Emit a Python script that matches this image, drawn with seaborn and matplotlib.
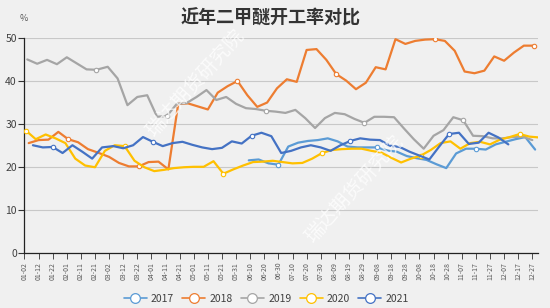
import numpy as np
import pandas as pd
import matplotlib
matplotlib.use("Agg")
import matplotlib.pyplot as plt
from matplotlib.lines import Line2D
import seaborn as sns

# ---------------- data ----------------
title = "近年二甲醚开工率对比"
unit = "%"
tick_labels = ["01-02", "01-12", "01-22", "02-01", "02-11", "02-21", "03-02", "03-12",
               "03-22", "04-01", "04-11", "04-21", "05-01", "05-11", "05-21", "05-31",
               "06-10", "06-20", "06-30", "07-10", "07-20", "07-30", "08-09", "08-19",
               "08-29", "09-08", "09-18", "09-28", "10-08", "10-18", "10-28", "11-07",
               "11-17", "11-27", "12-07", "12-17", "12-27"]

years = ["2017", "2018", "2019", "2020", "2021"]
start_dates = {"2017": "2017-06-09", "2018": "2018-01-05", "2019": "2019-01-04",
               "2020": "2020-01-03", "2021": "2021-01-08"}

v2017 = [21.6, 21.8, 20.9, 20.6, 24.8, 25.7, 26.1, 26.3, 26.7, 26.0, 24.8, 24.6, 24.6,
         24.6, 23.9, 23.6, 22.6, 22.1, 21.7, 20.7, 19.8, 23.2, 24.3, 24.3, 24.1, 25.3,
         25.9, 26.5, 27.0, 24.1]
v2018 = [25.6, 26.3, 26.4, 28.2, 26.5, 25.8, 24.2, 23.4, 22.4, 21.0, 20.2, 20.2, 21.2,
         21.3, 19.5, 34.7, 34.8, 34.1, 33.4, 37.3, 38.8, 40.0, 36.7, 34.0, 35.0, 38.3,
         40.4, 39.8, 47.2, 47.4, 44.9, 41.6, 40.1, 38.1, 39.6, 43.2, 42.7, 49.7, 48.6,
         49.3, 49.6, 49.7, 49.3, 47.0, 42.2, 41.8, 42.4, 45.7, 44.7, 46.6, 48.2, 48.2]
v2019 = [45.0, 44.0, 44.9, 43.9, 45.5, 44.1, 42.7, 42.6, 43.3, 40.6, 34.4, 36.3, 36.7,
         31.7, 31.9, 34.7, 34.9, 36.3, 37.9, 35.6, 36.3, 34.7, 33.7, 33.5, 33.1, 32.9,
         32.6, 33.3, 31.4, 29.1, 31.4, 32.6, 32.3, 31.2, 30.3, 31.7, 31.7, 31.6, 29.0,
         26.5, 24.3, 27.3, 28.6, 31.6, 30.9, 27.3, 27.2, 26.7, 26.7, 27.0, 27.1, 26.3]
v2020 = [28.5, 26.5, 27.6, 26.7, 25.6, 22.0, 20.4, 20.0, 23.8, 25.1, 24.9, 21.5, 20.0,
         19.1, 19.4, 19.8, 20.0, 20.1, 20.1, 21.4, 18.5, 19.5, 20.4, 21.2, 21.3, 21.5,
         21.2, 20.9, 21.0, 22.0, 23.3, 24.0, 24.2, 24.3, 24.3, 23.8, 23.4, 22.2, 21.1,
         22.0, 22.7, 24.0, 25.6, 26.0, 24.3, 25.6, 25.9, 25.3, 26.4, 27.0, 27.7, 27.1,
         26.9]
v2021 = [25.1, 24.6, 24.7, 23.3, 25.1, 23.6, 22.0, 24.6, 24.9, 24.4, 25.1, 27.0, 25.9,
         24.9, 25.6, 25.9, 25.2, 24.6, 24.2, 24.5, 26.0, 25.5, 27.3, 28.0, 27.2, 23.3,
         23.8, 24.6, 25.1, 24.6, 23.8, 25.1, 26.1, 26.7, 26.4, 26.3, 25.0, 24.7, 23.6,
         22.7, 21.8, 24.8, 27.7, 28.0, 25.4, 25.7, 28.0, 26.9, 25.3]
values = {"2017": v2017, "2018": v2018, "2019": v2019, "2020": v2020, "2021": v2021}

colors = {"2017": "#5B9BD5", "2018": "#ED7D31", "2019": "#A5A5A5",
          "2020": "#FFC000", "2021": "#4472C4"}
marker_idx = {"2017": [3, 13, 23], "2018": [4, 11, 21, 31, 41, 51],
              "2019": [7, 14, 24, 34, 44], "2020": [0, 10, 20, 30, 40, 50],
              "2021": [2, 12, 22, 32, 42]}


def cal_day(d, year):
    """Day position on a leap-year (month-day) calendar axis."""
    base = (d - pd.Timestamp(year, 1, 1)).days + 1
    leap = (year % 4 == 0)
    if not leap and (d.month > 2 or d.year > year):
        base += 1
    return base


rows = []
for y in years:
    dates = pd.date_range(start_dates[y], periods=len(values[y]), freq="7D")
    for d, v in zip(dates, values[y]):
        rows.append({"year": y, "day": cal_day(d, int(y)), "rate": v})
df = pd.DataFrame(rows)

tick_pos = [pd.Timestamp("2020-" + t).dayofyear for t in tick_labels]

# ---------------- plot ----------------
sns.set_theme(style="white")
plt.rcParams["font.family"] = ["Noto Sans CJK SC", "DejaVu Sans"]
bg = "#F0F0F0"
fig = plt.figure(figsize=(5.5, 3.08), dpi=100, facecolor=bg)
ax = fig.add_axes([0.0445, 0.177, 0.9336, 0.700])
ax.set_facecolor(bg)

for y in years:
    sub = df[df["year"] == y]
    sns.lineplot(data=sub, x="day", y="rate", ax=ax, color=colors[y], lw=1.6,
                 legend=False, marker="o", markevery=marker_idx[y], markersize=3.2,
                 markerfacecolor="white", markeredgecolor=colors[y],
                 markeredgewidth=0.8, zorder=3)

ax.set_xlim(2, 366)
ax.set_ylim(0, 50)
ax.set_yticks([0, 10, 20, 30, 40, 50])
ax.set_xticks(tick_pos)
ax.set_xticklabels(tick_labels, rotation=90, fontsize=5, color="#595959")
ax.tick_params(axis="y", labelsize=7.5, labelcolor="#404040", length=4, width=0.8,
               color="#333333", pad=1.5, left=True)
ax.tick_params(axis="x", length=4, width=0.6, color="#333333", pad=2, bottom=True)
ax.set_xlabel("")
ax.set_ylabel("")
ax.yaxis.grid(True, color="#C8C8C8", lw=0.8)
ax.xaxis.grid(False)
for s in ["top", "right"]:
    ax.spines[s].set_visible(False)
for s in ["left", "bottom"]:
    ax.spines[s].set_color("#222222")
    ax.spines[s].set_linewidth(0.9)

fig.text(0.492, 0.94, title, ha="center", va="center", fontsize=13,
         fontweight="bold", color="#333333")
fig.text(0.044, 0.94, unit, ha="center", va="center", fontsize=6.5, color="#595959")

# watermarks
for (wx, wy) in [(0.355, 0.73), (0.645, 0.385)]:
    fig.text(wx, wy, "瑞达期货研究院", ha="center", va="center", fontsize=14,
             rotation=48, color="white", alpha=0.75, fontweight="light", zorder=10)

handles = [Line2D([0], [0], color=colors[y], lw=1.2, marker="o", markersize=7,
                  markerfacecolor="white", markeredgecolor=colors[y],
                  markeredgewidth=0.9) for y in years]
fig.legend(handles, years, loc="center", bbox_to_anchor=(0.484, 0.03), ncol=5,
           frameon=False, fontsize=7.5, handlelength=2.2, columnspacing=0.8,
           handletextpad=0.4, labelcolor="#404040")

fig.savefig("out.png", dpi=100, facecolor=bg)
